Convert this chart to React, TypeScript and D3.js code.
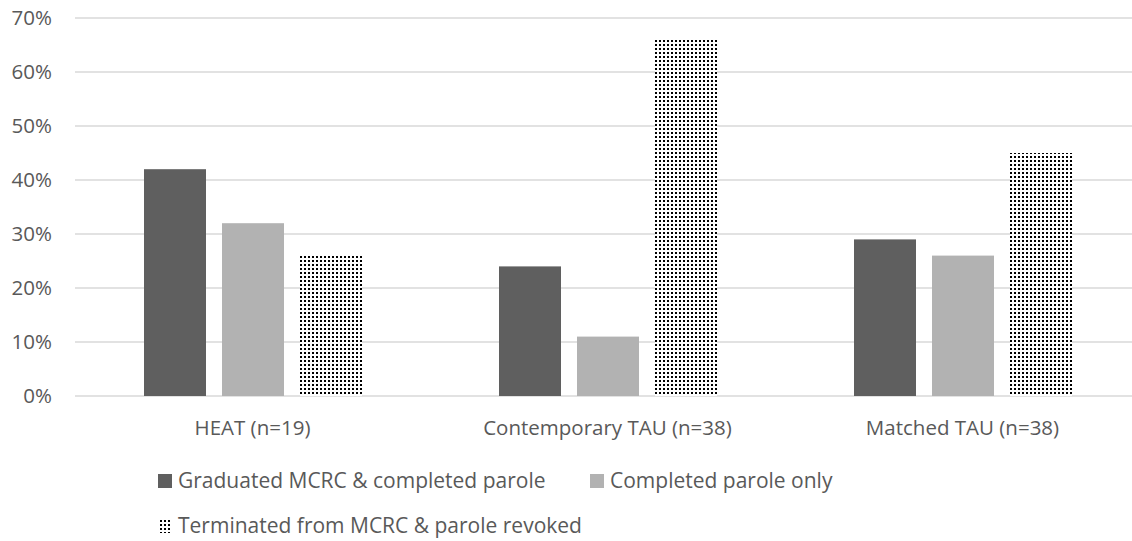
import * as d3 from 'd3';
import { useEffect, useRef } from 'react';

const categories = ['HEAT (n=19)', 'Contemporary TAU (n=38)', 'Matched TAU (n=38)'];
const seriesNames = ['Graduated MCRC & completed parole', 'Completed parole only', 'Terminated from MCRC & parole revoked'];
const graduated = [42, 24, 29];
const paroleOnly = [32, 11, 26];
const terminated = [26, 66, 45];
const yTicks = [0, 10, 20, 30, 40, 50, 60, 70];

const W = 1132, H = 541;
const FONT = '"Open Sans", sans-serif';
const FS = 20.5;

export default function App() {
    const ref = useRef<SVGSVGElement>(null);

    useEffect(() => {
        const svg = d3.select(ref.current).html('');
        const values = [graduated, paroleOnly, terminated];

        // dotted fill for the third series
        const pat = svg.append('defs').append('pattern')
            .attr('id', 'dots')
            .attr('patternUnits', 'userSpaceOnUse')
            .attr('width', 4).attr('height', 4);
        pat.append('rect').attr('width', 4).attr('height', 4).attr('fill', '#fff');
        pat.append('rect').attr('x', 0).attr('y', 0).attr('width', 2).attr('height', 2).attr('fill', '#000');

        const fills = ['#5f5f5f', '#b2b2b2', 'url(#dots)'];

        const x0 = d3.scaleBand().domain(categories).range([75, 1140]);
        const x1 = d3.scaleBand().domain(seriesNames).range([0, 218]).paddingInner(16 / 78);
        const y = d3.scaleLinear().domain([0, 70]).range([396, 18]);

        // gridlines
        svg.append('g').selectAll('line').data(yTicks).enter().append('line')
            .attr('x1', 75).attr('x2', W)
            .attr('y1', d => y(d)).attr('y2', d => y(d))
            .attr('stroke', '#d9d9d9').attr('stroke-width', 1.3);

        svg.append('g').selectAll('text').data(yTicks).enter().append('text')
            .attr('x', 52).attr('y', d => y(d) + 7)
            .attr('text-anchor', 'end')
            .attr('font-family', FONT).attr('font-size', FS).attr('fill', '#595959')
            .text(d => d + '%');

        const off = (x0.bandwidth() - 218) / 2;
        categories.forEach((c, ci) => {
            const g = svg.append('g').attr('transform', `translate(${Math.round(x0(c)! + off)},0)`);
            g.selectAll('rect').data(seriesNames).enter().append('rect')
                .attr('x', s => Math.round(x1(s)!))
                .attr('width', Math.round(x1.bandwidth()))
                .attr('y', (s, si) => y(values[si][ci]))
                .attr('height', (s, si) => y(0) - y(values[si][ci]))
                .attr('fill', (s, si) => fills[si]);
        });

        svg.append('g').selectAll('text').data(categories).enter().append('text')
            .attr('x', d => x0(d)! + x0.bandwidth() / 2)
            .attr('y', 435)
            .attr('text-anchor', 'middle')
            .attr('font-family', FONT).attr('font-size', FS).attr('fill', '#595959')
            .text(d => d);

        // legend
        const legendPos = [[158, 488], [590, 488], [158, 533]];
        seriesNames.forEach((s, i) => {
            const [lx, ly] = legendPos[i];
            svg.append('rect').attr('x', lx).attr('y', ly - 14)
                .attr('width', 14).attr('height', 14).attr('fill', fills[i]);
            svg.append('text').attr('x', lx + 20).attr('y', ly)
                .attr('font-family', FONT).attr('font-size', 21).attr('fill', '#595959')
                .text(s);
        });
    }, []);

    return (
        <svg ref={ref} width={W} height={H} style={{ display: 'block', position: 'absolute', left: 0, top: 0 }} />
    );
}
